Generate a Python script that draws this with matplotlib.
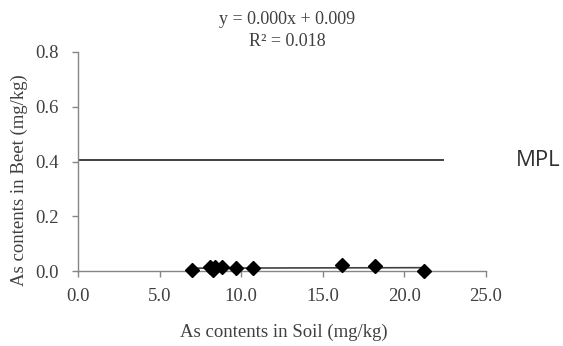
import numpy as np
import matplotlib
matplotlib.use("Agg")
import matplotlib.pyplot as plt

# Data
soil_as = [7.0, 8.1, 8.3, 8.4, 8.8, 9.7, 10.7, 16.2, 18.2, 21.2]
beet_as = [0.003, 0.015, 0.002, 0.015, 0.013, 0.012, 0.010, 0.022, 0.017, 0.001]
mpl_x = [0.0, 22.4]
mpl_y = 0.405
x_ticks = [0, 5, 10, 15, 20, 25]
y_ticks = [0.0, 0.2, 0.4, 0.6, 0.8]
equation = "y = 0.000x + 0.009"
r2_text = "R\u00b2 = 0.018"

plt.rcParams['font.family'] = ['Liberation Serif', 'DejaVu Serif']

fig = plt.figure(figsize=(5.63, 3.46), dpi=100)
W, H = 563, 346
ax = fig.add_axes([78 / W, 1 - 271 / H, (486 - 78) / W, (271 - 52) / H])

axis_col = '#868686'
text_col = '#404040'
ax.set_xlim(0, 25)
ax.set_ylim(0, 0.8)
ax.set_xticks(x_ticks)
ax.set_xticklabels([f"{v:.1f}" for v in x_ticks])
ax.set_yticks(y_ticks)
ax.set_yticklabels([f"{v:.1f}" for v in y_ticks])
for s in ['top', 'right']:
    ax.spines[s].set_visible(False)
for s in ['left', 'bottom']:
    ax.spines[s].set_color(axis_col)
    ax.spines[s].set_linewidth(1.0)
ax.tick_params(axis='both', colors=axis_col, labelcolor=text_col, labelsize=13.5,
               length=4, width=1.0, direction='out')
ax.tick_params(axis='x', pad=8)
ax.tick_params(axis='y', pad=10)

# MPL line
ax.plot(mpl_x, [mpl_y, mpl_y], color=text_col, lw=1.4, solid_capstyle='butt')

# Trend line (linear fit of the data, over the data range)
coef = np.polyfit(soil_as, beet_as, 1)
xs = np.array([min(soil_as), max(soil_as)])
ax.plot(xs, np.polyval(coef, xs), color=text_col, lw=1.2, zorder=2)

# Points
ax.plot(soil_as, beet_as, linestyle='none', marker='D', markersize=7.5,
        color='black', zorder=3, clip_on=False)

fig.text(284 / W, 1 - 332 / H, "As contents in Soil (mg/kg)", ha='center', va='center',
         fontsize=13.5, color=text_col)
fig.text(19 / W, 1 - 180 / H, "As contents in Beet (mg/kg)", ha='center', va='center',
         rotation=90, fontsize=13.5, color=text_col)

fig.text(287 / W, 1 - 19 / H, equation, ha='center', va='center', fontsize=13, color=text_col)
fig.text(287 / W, 1 - 41 / H, r2_text, ha='center', va='center', fontsize=13, color=text_col)
fig.text(538 / W, 1 - 160 / H, "MPL", ha='center', va='center', fontsize=16,
         color='#303030', family=['Open Sans', 'DejaVu Sans'])

fig.savefig("out.png", dpi=100)
